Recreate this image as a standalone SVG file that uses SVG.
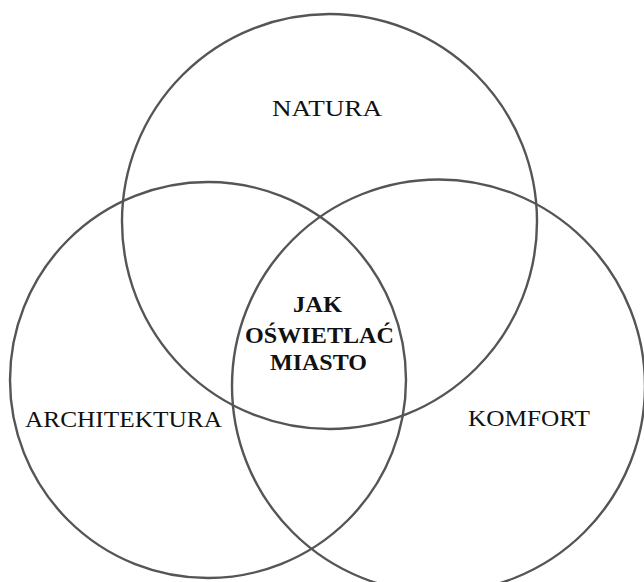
<svg xmlns="http://www.w3.org/2000/svg" width="644" height="582" viewBox="0 0 644 582">
<style>
.c{fill:none;stroke:#555;stroke-width:2.4}
.t{font-family:"Liberation Serif","DejaVu Serif",serif;font-size:23.5px;fill:#111;text-anchor:middle}
.b{font-weight:bold}
</style>
<rect width="644" height="582" fill="#fff"/>
<g id="natura"><circle class="c" cx="329.5" cy="221.5" r="207.5"/><text class="t" x="327" y="116" textLength="110" lengthAdjust="spacingAndGlyphs">NATURA</text></g>
<g id="architektura"><circle class="c" cx="208" cy="380" r="198"/><text class="t" x="123.5" y="427" textLength="197" lengthAdjust="spacingAndGlyphs">ARCHITEKTURA</text></g>
<g id="komfort"><circle class="c" cx="438.5" cy="386" r="206.5"/><text class="t" x="529" y="426" textLength="122" lengthAdjust="spacingAndGlyphs">KOMFORT</text></g>
<g id="center"><text class="t b" x="317.5" y="312" textLength="49" lengthAdjust="spacingAndGlyphs">JAK</text><text class="t b" x="319.5" y="343" textLength="149" lengthAdjust="spacingAndGlyphs">OŚWIETLAĆ</text><text class="t b" x="318.5" y="370" textLength="97" lengthAdjust="spacingAndGlyphs">MIASTO</text></g>
<g id="connectors"/>
</svg>
